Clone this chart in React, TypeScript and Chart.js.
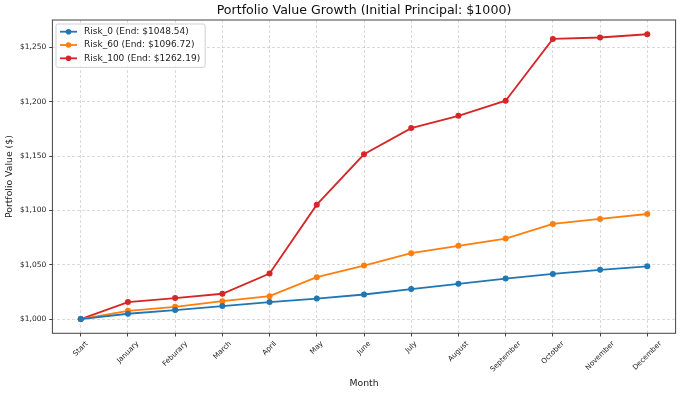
import React, { useEffect, useRef } from 'react';
import { Chart, registerables } from 'chart.js';

Chart.register(...registerables);

const categories = ['Start', 'January', 'Feburary', 'March', 'April', 'May', 'June', 'July', 'August', 'September', 'October', 'November', 'December'];
const risk0 = [1000, 1004.9, 1008.3, 1012.0, 1015.6, 1018.9, 1022.6, 1027.6, 1032.4, 1037.3, 1041.6, 1045.3, 1048.54];
const risk60 = [1000, 1007.6, 1011.3, 1016.5, 1021.1, 1038.6, 1049.3, 1060.7, 1067.4, 1074.1, 1087.6, 1092.2, 1096.72];
const risk100 = [1000, 1015.6, 1019.3, 1023.3, 1041.9, 1105.3, 1151.7, 1175.8, 1187.1, 1201.0, 1257.9, 1259.2, 1262.19];
const seriesNames = ['Risk_0 (End: $1048.54)', 'Risk_60 (End: $1096.72)', 'Risk_100 (End: $1262.19)'];
const seriesColors = ['#1f77b4', '#ff7f0e', '#d62728'];
const yTicks = [1000, 1050, 1100, 1150, 1200, 1250];
const titleText = 'Portfolio Value Growth (Initial Principal: $1000)';
const xTitle = 'Month';
const yTitle = 'Portfolio Value ($)';

const FONT = '"DejaVu Sans", sans-serif';
const TEXT = '#222';

const decor = {
  id: 'decor',
  afterDatasetsDraw(chart: any) {
    const { ctx, chartArea: a } = chart;
    ctx.save();
    ctx.strokeStyle = '#444';
    ctx.lineWidth = 1;
    ctx.strokeRect(a.left, a.top, a.right - a.left, a.bottom - a.top);
    ctx.restore();
  },
  afterDraw(chart: any) {
    const { ctx, chartArea: a } = chart;
    const xs = chart.scales.x;
    ctx.save();
    // title
    ctx.font = `12.6px ${FONT}`;
    ctx.fillStyle = '#111';
    ctx.textAlign = 'center';
    ctx.textBaseline = 'middle';
    ctx.fillText(titleText, (a.left + a.right) / 2, 10.5);

    // rotated x tick labels centred on the tick
    const fs = 7.2;
    ctx.font = `${fs}px ${FONT}`;
    ctx.fillStyle = TEXT;
    const top = a.bottom + 6.4;
    categories.forEach((c, i) => {
      const x = xs.getPixelForValue(i);
      const w = ctx.measureText(c).width;
      const h = fs * 1.16;
      const half = ((w + h) * Math.SQRT1_2) / 2;
      ctx.save();
      ctx.translate(x, top + half);
      ctx.rotate(-Math.PI / 4);
      ctx.textAlign = 'center';
      ctx.textBaseline = 'middle';
      ctx.fillText(c, 0, 0);
      ctx.restore();
    });

    // legend
    ctx.font = `9px ${FONT}`;
    const maxW = Math.max(...seriesNames.map((s) => ctx.measureText(s).width));
    const bx = a.left + 3.6;
    const by = a.top + 4;
    const bw = 28 + maxW + 5;
    const rowH = 13.3;
    const bh = rowH * 3 + 3.5;
    ctx.beginPath();
    if ((ctx as any).roundRect) (ctx as any).roundRect(bx, by, bw, bh, 2);
    else ctx.rect(bx, by, bw, bh);
    ctx.fillStyle = 'rgba(255,255,255,0.85)';
    ctx.fill();
    ctx.strokeStyle = '#d0d0d0';
    ctx.lineWidth = 1;
    ctx.stroke();
    seriesNames.forEach((name, k) => {
      const y = by + 7.7 + k * rowH;
      ctx.strokeStyle = seriesColors[k];
      ctx.lineWidth = 1.8;
      ctx.beginPath();
      ctx.moveTo(bx + 4, y);
      ctx.lineTo(bx + 21, y);
      ctx.stroke();
      ctx.fillStyle = seriesColors[k];
      ctx.beginPath();
      ctx.arc(bx + 12.5, y, 2.8, 0, Math.PI * 2);
      ctx.fill();
      ctx.fillStyle = TEXT;
      ctx.textAlign = 'left';
      ctx.textBaseline = 'middle';
      ctx.fillText(name, bx + 28, y);
    });
    ctx.restore();
  },
};

export default function App() {
  const ref = useRef<HTMLCanvasElement>(null);
  useEffect(() => {
    if (!ref.current) return;
    const series = [risk0, risk60, risk100];
    const chart = new Chart(ref.current, {
      type: 'line',
      data: {
        datasets: series.map((vals, k) => ({
          label: seriesNames[k],
          data: vals.map((v, i) => ({ x: i, y: v })),
          borderColor: seriesColors[k],
          backgroundColor: seriesColors[k],
          pointBackgroundColor: seriesColors[k],
          pointBorderWidth: 0,
          pointRadius: 3,
          borderWidth: 1.8,
          tension: 0,
          fill: false,
        })),
      },
      options: {
        responsive: false,
        animation: false,
        devicePixelRatio: 1,
        layout: { padding: { top: 20, right: 4.4, bottom: 0, left: 0 } },
        plugins: {
          legend: { display: false },
          title: { display: false },
          tooltip: { enabled: false },
        },
        scales: {
          x: {
            type: 'linear',
            min: -0.6,
            max: 12.6,
            afterBuildTicks: (s: any) => {
              s.ticks = categories.map((_, i) => ({ value: i }));
            },
            afterFit: (s: any) => {
              s.height = 61.7;
            },
            ticks: { display: false },
            grid: {
              color: 'rgba(170,170,170,0.55)',
              lineWidth: 0.8,
              drawTicks: true,
              tickLength: 3.2,
              tickColor: '#444',
              tickWidth: 1,
              tickBorderDash: [],
            },
            border: { display: false, dash: [3, 2] },
            title: {
              display: true,
              text: xTitle,
              font: { family: FONT, size: 9.3 },
              color: TEXT,
              padding: { top: 0, bottom: 6.1 },
            },
          },
          y: {
            type: 'linear',
            min: 986.9,
            max: 1275.3,
            afterBuildTicks: (s: any) => {
              s.ticks = yTicks.map((v) => ({ value: v }));
            },
            afterFit: (s: any) => {
              s.width = 52.4;
            },
            ticks: {
              font: { family: FONT, size: 7.5 },
              color: TEXT,
              padding: 3,
              callback: (v: any) => '$' + Number(v).toLocaleString('en-US'),
            },
            grid: {
              color: 'rgba(170,170,170,0.55)',
              lineWidth: 0.8,
              drawTicks: true,
              tickLength: 3.2,
              tickColor: '#444',
              tickWidth: 1,
              tickBorderDash: [],
            },
            border: { display: false, dash: [3, 2] },
            title: {
              display: true,
              text: yTitle,
              font: { family: FONT, size: 9.3 },
              color: TEXT,
              padding: { top: 4.4, bottom: 0 },
            },
          },
        },
      },
      plugins: [decor],
    } as any);
    return () => chart.destroy();
  }, []);
  return (
    <div style={{ position: 'fixed', left: 0, top: 0, width: 680, height: 395, background: '#fff' }}>
      <canvas ref={ref} width={680} height={395} style={{ display: 'block' }} />
    </div>
  );
}
